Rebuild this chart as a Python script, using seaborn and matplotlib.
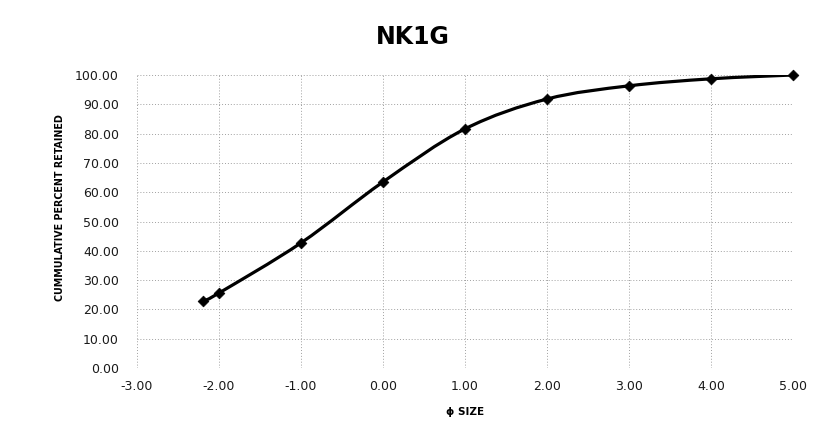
import numpy as np
import pandas as pd
import seaborn as sns
import matplotlib
matplotlib.use("Agg")
import matplotlib.pyplot as plt
from matplotlib.path import Path
from matplotlib.patches import PathPatch
from matplotlib.ticker import FormatStrFormatter, MultipleLocator

# Grain-size distribution for sample NK1G
phi_size = [-2.2, -2.0, -1.0, 0.0, 1.0, 2.0, 3.0, 4.0, 5.0]
cum_retained = [22.7, 25.6, 42.7, 63.5, 81.6, 91.8, 96.3, 98.7, 100.0]

df = pd.DataFrame({"phi": phi_size, "cum": cum_retained})

sns.set_style("white")
plt.rcParams["font.family"] = ["DejaVu Sans"]
plt.rcParams["text.color"] = "black"

fig = plt.figure(figsize=(8.17, 4.40), dpi=100)
ax = fig.add_axes([137 / 817, 1 - 368 / 440, (793 - 137) / 817, (368 - 75) / 440])

# Smoothed connecting line (Bezier segments through the data points)
x = np.array(phi_size, dtype=float)
y = np.array(cum_retained, dtype=float)
verts = [(x[0], y[0])]
codes = [Path.MOVETO]
t = 1.0 / 6.0
for i in range(len(x) - 1):
    p0 = np.array([x[max(i - 1, 0)], y[max(i - 1, 0)]])
    p1 = np.array([x[i], y[i]])
    p2 = np.array([x[i + 1], y[i + 1]])
    p3 = np.array([x[min(i + 2, len(x) - 1)], y[min(i + 2, len(x) - 1)]])
    c1 = p1 + (p2 - p0) * t
    c2 = p2 - (p3 - p1) * t
    verts += [tuple(c1), tuple(c2), tuple(p2)]
    codes += [Path.CURVE4, Path.CURVE4, Path.CURVE4]
ax.add_patch(PathPatch(Path(verts, codes), facecolor="none", edgecolor="black",
                       lw=2.3, zorder=3, capstyle="round", joinstyle="round"))

sns.scatterplot(data=df, x="phi", y="cum", marker="D", s=30, color="black",
                edgecolor="black", linewidth=0.5, ax=ax, zorder=4, legend=False,
                clip_on=False)

ax.set_xlim(-3, 5)
ax.set_ylim(0, 100)
ax.xaxis.set_major_locator(MultipleLocator(1))
ax.yaxis.set_major_locator(MultipleLocator(10))
ax.xaxis.set_major_formatter(FormatStrFormatter("%.2f"))
ax.yaxis.set_major_formatter(FormatStrFormatter("%.2f"))
ax.grid(True, color="#a0a0a0", linestyle=(0, (1, 2)), linewidth=0.7)
for s in ax.spines.values():
    s.set_visible(False)
ax.tick_params(axis="both", length=0, labelsize=9, colors="#1a1a1a")
ax.tick_params(axis="x", pad=9)
ax.tick_params(axis="y", pad=13)

ax.set_xlabel("")
ax.set_ylabel("")
fig.text(465 / 817, 1 - 412 / 440, "ϕ SIZE", ha="center", va="center",
         fontsize=7.5, fontweight="bold")
fig.text(60 / 817, 1 - 208 / 440, "CUMMULATIVE PERCENT RETAINED", rotation=90,
         ha="center", va="center", fontsize=7.7, fontweight="bold",
         fontstretch="condensed")
fig.text(413 / 817, 1 - 37 / 440, "NK1G", ha="center", va="center",
         fontsize=17, fontweight="bold")

fig.savefig("out.png", dpi=100, facecolor="white")
